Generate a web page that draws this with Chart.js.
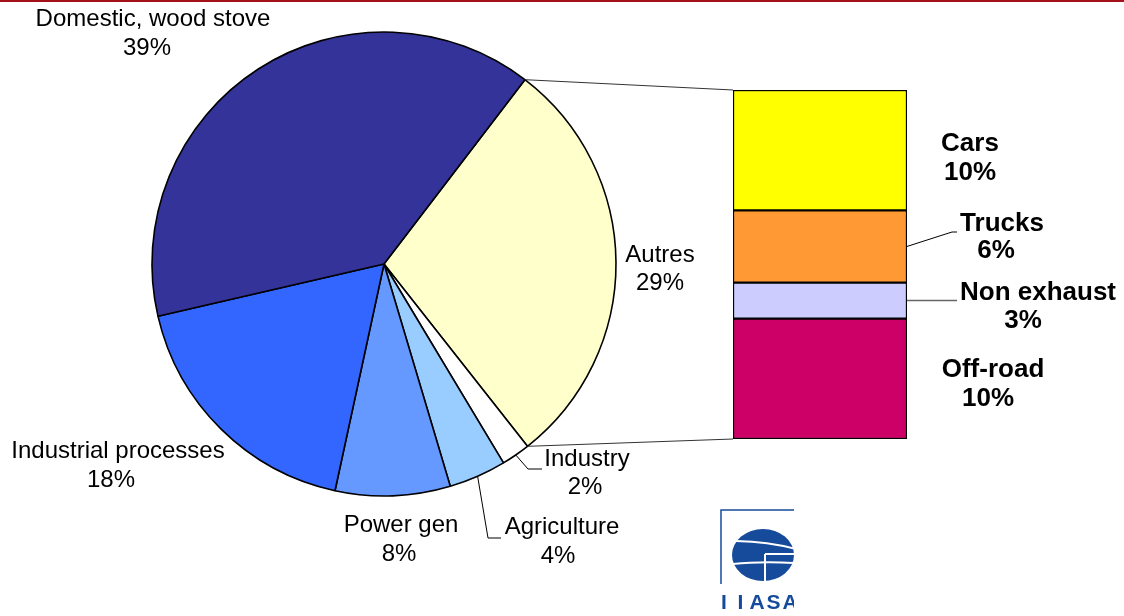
<!DOCTYPE html>
<html>
<head>
<meta charset="utf-8">
<script src="https://cdn.jsdelivr.net/npm/chart.js@4.4.0/dist/chart.umd.min.js"></script>
<style>
  body { margin: 0; background: #fff; }
  #wrap { position: relative; width: 1124px; height: 616px; }
  #wrap canvas { position: absolute; left: 0; top: 0; }
</style>
</head>
<body>
<div id="wrap">
  <canvas id="pieChart" width="1124" height="616"></canvas>
  <canvas id="barChart" width="1124" height="616"></canvas>
</div>
<script>
// pie: sources, clockwise starting at "Autres"
const pieCategories = ['Autres', 'Industry', 'Agriculture', 'Power gen', 'Industrial processes', 'Domestic, wood stove'];
const pieValues = [29, 2, 4, 8, 18, 39];
const pieColors = ['#FFFFCC', '#FFFFFF', '#99CCFF', '#6699FF', '#3366FF', '#333399'];

// bar: breakdown of "Autres", bottom to top
const barCategories = ['Off-road', 'Non exhaust', 'Trucks', 'Cars'];
const barValues = [10, 3, 6, 10];
const barColors = ['#CC0066', '#CCCCFF', '#FF9933', '#FFFF00'];

// where the text goes: [x name, baseline name, x value, baseline value]
const pieLabelPos = [
  [660, 262, 660, 290],
  [587, 466, 585, 494],
  [562, 534, 558, 563],
  [401, 532, 399, 561],
  [118, 458, 111, 487],
  [153, 26, 147, 55]
];
const barLabelPos = [
  [993, 377, 988, 406],
  [1038, 300, 1023, 328],
  [1002, 231, 996, 258],
  [970, 151, 970, 180]
];

const FONT = '"Liberation Sans", Arial, sans-serif';

function line(ctx, pts, color, width) {
  ctx.save();
  ctx.strokeStyle = color;
  ctx.lineWidth = width;
  ctx.beginPath();
  ctx.moveTo(pts[0][0], pts[0][1]);
  for (let i = 1; i < pts.length; i++) ctx.lineTo(pts[i][0], pts[i][1]);
  ctx.stroke();
  ctx.restore();
}

function arcPoint(arc, angle) {
  return [arc.x + arc.outerRadius * Math.cos(angle), arc.y + arc.outerRadius * Math.sin(angle)];
}

function drawLogo(ctx) {
  const blue = '#164B9B';
  ctx.save();
  ctx.strokeStyle = blue;
  ctx.lineWidth = 1.5;
  ctx.beginPath();
  ctx.moveTo(721, 584);
  ctx.lineTo(721, 510);
  ctx.lineTo(794, 510);
  ctx.stroke();

  ctx.beginPath();
  ctx.rect(700, 505, 94, 111);
  ctx.clip();
  ctx.fillStyle = blue;
  ctx.beginPath();
  ctx.ellipse(763, 555, 31, 26, 0, 0, Math.PI * 2);
  ctx.fill();

  // white bands across the globe
  ctx.strokeStyle = '#fff';
  ctx.lineWidth = 2;
  ctx.beginPath();
  ctx.moveTo(736, 541);
  ctx.quadraticCurveTo(770, 542, 796, 549);
  ctx.stroke();
  ctx.beginPath();
  ctx.moveTo(733, 564);
  ctx.quadraticCurveTo(760, 561, 796, 563);
  ctx.stroke();
  ctx.beginPath();
  ctx.moveTo(765, 554);
  ctx.lineTo(796, 554);
  ctx.moveTo(765, 554);
  ctx.lineTo(765, 583);
  ctx.stroke();

  ctx.fillStyle = blue;
  ctx.font = 'bold 21px ' + FONT;
  ctx.textAlign = 'center';
  ctx.textBaseline = 'alphabetic';
  const letters = ['I', 'I', 'A', 'S', 'A'];
  letters.forEach((ch, i) => ctx.fillText(ch, 724 + i * 16.5, 609));
  ctx.restore();
}

const pieLabels = {
  id: 'pieLabels',
  afterDraw(chart) {
    const ctx = chart.ctx;
    const arcs = chart.getDatasetMeta(0).data;

    // leader lines for the two thin slices
    const ind = arcs[1];
    const a1 = (ind.startAngle + ind.endAngle) / 2;
    line(ctx, [arcPoint(ind, a1), [528, 469], [542, 469]], '#000', 1);
    const agr = arcs[2];
    const a2 = (agr.startAngle + agr.endAngle) / 2;
    line(ctx, [arcPoint(agr, a2), [488, 538], [501, 538]], '#000', 1);

    ctx.save();
    ctx.fillStyle = '#000';
    ctx.font = '24px ' + FONT;
    ctx.textAlign = 'center';
    ctx.textBaseline = 'alphabetic';
    pieCategories.forEach((name, i) => {
      const p = pieLabelPos[i];
      ctx.fillText(name, p[0], p[1]);
      ctx.fillText(pieValues[i] + '%', p[2], p[3]);
    });
    ctx.restore();

    // red rule along the top
    ctx.fillStyle = '#A3121A';
    ctx.fillRect(0, 0, chart.width, 2);

    drawLogo(ctx);
  }
};

const pieChart = new Chart(document.getElementById('pieChart'), {
  type: 'pie',
  data: {
    labels: pieCategories,
    datasets: [{
      data: pieValues,
      backgroundColor: pieColors,
      borderColor: '#000',
      borderWidth: 1.6
    }]
  },
  options: {
    responsive: false,
    animation: false,
    rotation: 37.4,
    radius: 232,
    layout: { padding: { left: 0, right: 356, top: 0, bottom: 88 } },
    plugins: { legend: { display: false }, tooltip: { enabled: false } }
  },
  plugins: [pieLabels]
});

const barLabels = {
  id: 'barLabels',
  afterDraw(chart) {
    const ctx = chart.ctx;
    const bars = barCategories.map((c, i) => chart.getDatasetMeta(i).data[0]);
    const top = bars[bars.length - 1];
    const bottom = bars[0];
    const left = top.x - top.width / 2;
    const right = top.x + top.width / 2;

    // connectors from the "Autres" slice to the bar
    const autres = pieChart.getDatasetMeta(0).data[0];
    line(ctx, [arcPoint(autres, autres.startAngle), [left, top.y]], '#333', 1);
    line(ctx, [arcPoint(autres, autres.endAngle), [left, bottom.base]], '#333', 1);

    // leaders for the two middle segments
    const trucks = bars[2];
    line(ctx, [[right, (trucks.y + trucks.base) / 2], [952, 232], [957, 232]], '#000', 1);
    const nonEx = bars[1];
    const ny = (nonEx.y + nonEx.base) / 2;
    line(ctx, [[right, ny], [957, ny]], '#666', 1.5);

    ctx.save();
    ctx.fillStyle = '#000';
    ctx.font = 'bold 26px ' + FONT;
    ctx.textAlign = 'center';
    ctx.textBaseline = 'alphabetic';
    barCategories.forEach((name, i) => {
      const p = barLabelPos[i];
      ctx.fillText(name, p[0], p[1]);
      ctx.fillText(barValues[i] + '%', p[2], p[3]);
    });
    ctx.restore();
  }
};

const barTotal = barValues.reduce((s, v) => s + v, 0);

new Chart(document.getElementById('barChart'), {
  type: 'bar',
  data: {
    labels: ['Autres'],
    datasets: barCategories.map((name, i) => ({
      label: name,
      data: [barValues[i]],
      backgroundColor: barColors[i],
      borderColor: '#000',
      borderWidth: 1.5,
      borderSkipped: false,
      barPercentage: 1,
      categoryPercentage: 1
    }))
  },
  options: {
    responsive: false,
    animation: false,
    layout: { padding: { left: 733, right: 217, top: 90, bottom: 177 } },
    scales: {
      x: { display: false, stacked: true },
      y: { display: false, stacked: true, min: 0, max: barTotal }
    },
    plugins: { legend: { display: false }, tooltip: { enabled: false } }
  },
  plugins: [barLabels]
});
</script>
</body>
</html>
